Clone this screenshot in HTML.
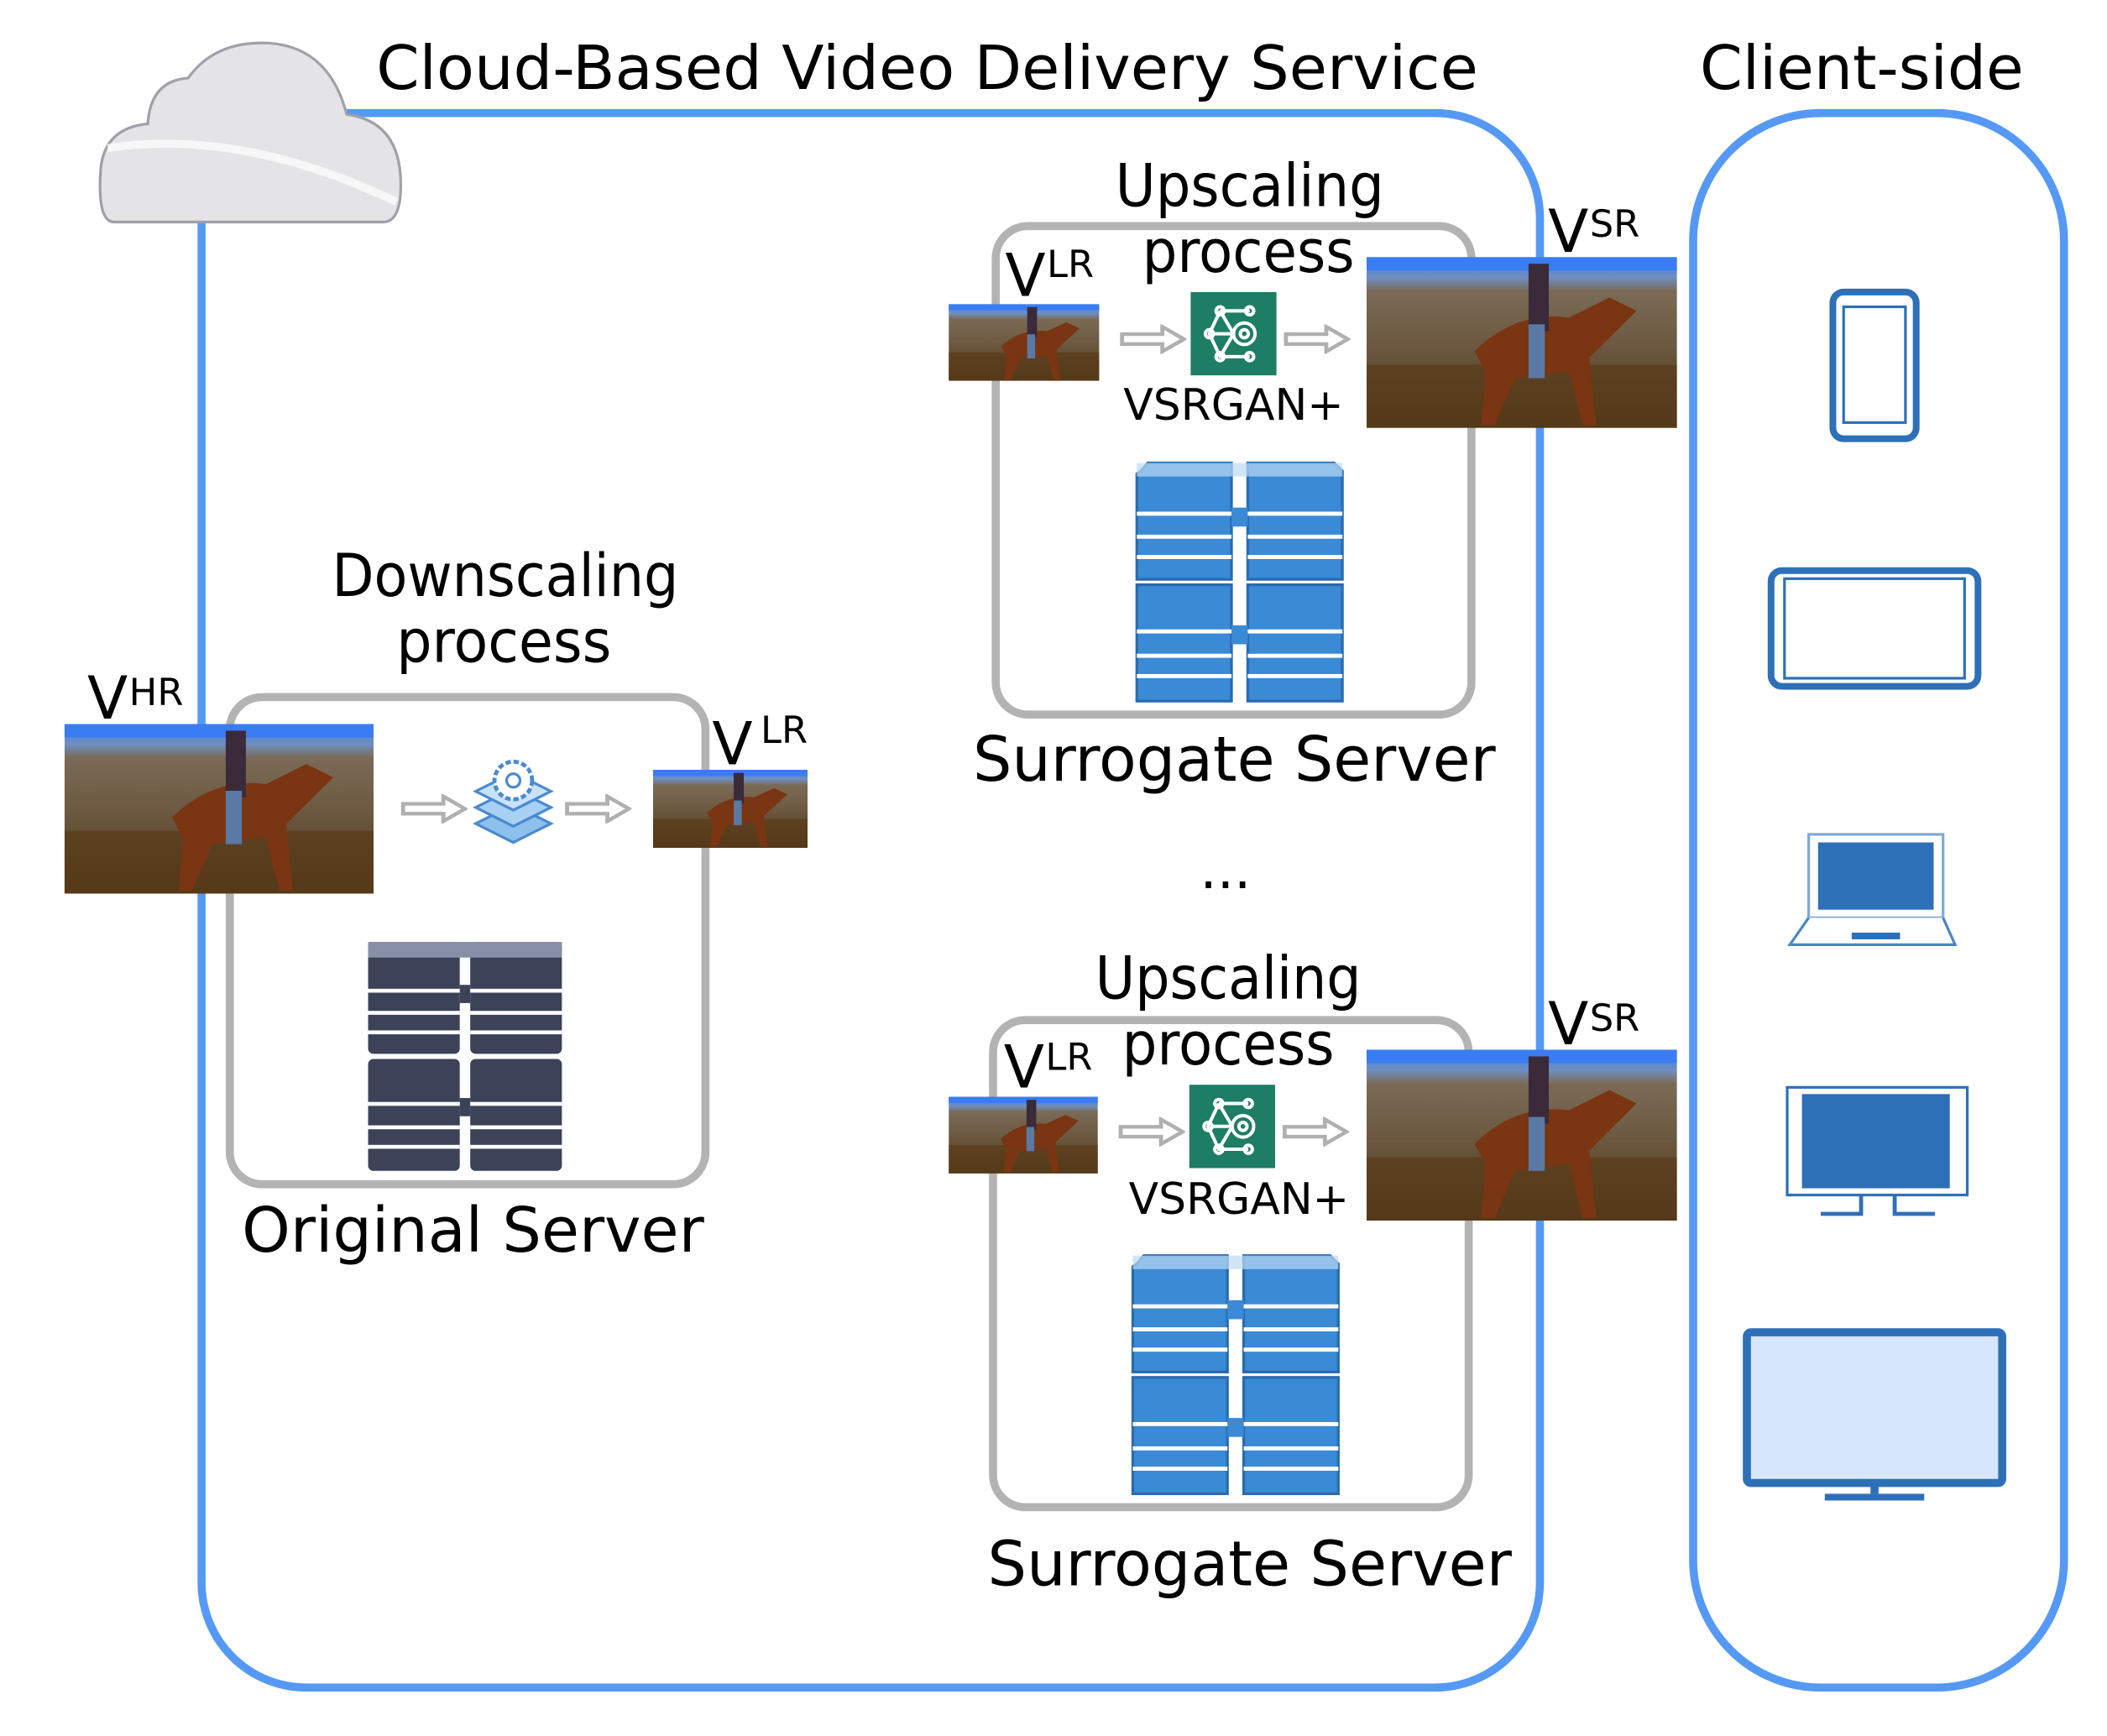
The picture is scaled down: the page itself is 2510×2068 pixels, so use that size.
<!DOCTYPE html>
<html><head><meta charset="utf-8"><style>html,body{margin:0;padding:0;background:#fff}svg{display:block}text{font-family:"DejaVu Sans","Liberation Sans",sans-serif;fill:#000}</style></head>
<body>
<svg width="2510" height="2068" viewBox="0 0 1568 1290" preserveAspectRatio="none" xmlns="http://www.w3.org/2000/svg">
<defs>
<linearGradient id="sky" x1="0" y1="0" x2="0" y2="1">
<stop offset="0" stop-color="#3f7ef0"/><stop offset="0.12" stop-color="#6f8fc0"/><stop offset="0.2" stop-color="#7a6a55"/><stop offset="0.5" stop-color="#6e5a42"/><stop offset="1" stop-color="#4a3418"/></linearGradient>
<symbol id="photo" viewBox="0 0 230 127" preserveAspectRatio="none">
<rect width="230" height="127" fill="url(#sky)"/>
<rect y="0" width="230" height="10" fill="#3a7cf2"/>
<rect y="80" width="230" height="47" fill="#5a3c18" opacity="0.7"/>
<path d="M80 70 Q110 40 150 45 L180 30 L200 40 L185 55 L165 75 L170 125 L160 125 L150 85 L110 90 L95 125 L85 125 L88 85 Z" fill="#7a3512"/>
<rect x="120" y="5" width="15" height="50" fill="#3a2a3a"/>
<rect x="120" y="50" width="12" height="40" fill="#5a7aa5"/>
</symbol>
<symbol id="srvB" viewBox="0 0 156 180" preserveAspectRatio="none">
<g fill="#3a8ad6" stroke="#2a6aae" stroke-width="2">
<path d="M5 8 L10 2 H72 V88 H2 V10Z"/><path d="M84 2 H148 L154 8 V88 H84Z"/>
<rect x="2" y="92" width="70" height="86"/><rect x="84" y="92" width="70" height="86"/></g>
<rect x="72" y="35" width="12" height="14" fill="#3a8ad6"/><rect x="72" y="122" width="12" height="14" fill="#3a8ad6"/>
<g fill="#fff"><rect x="2" y="38" width="70" height="3"/><rect x="84" y="38" width="70" height="3"/><rect x="2" y="55" width="70" height="3"/><rect x="84" y="55" width="70" height="3"/><rect x="2" y="70" width="70" height="3"/><rect x="84" y="70" width="70" height="3"/>
<rect x="2" y="125" width="70" height="3"/><rect x="84" y="125" width="70" height="3"/><rect x="2" y="143" width="70" height="3"/><rect x="84" y="143" width="70" height="3"/><rect x="2" y="158" width="70" height="3"/><rect x="84" y="158" width="70" height="3"/></g>
<rect x="2" y="2" width="152" height="10" fill="#bcdcf5" opacity="0.7"/>
</symbol>
<symbol id="srvD" viewBox="0 0 156 180" preserveAspectRatio="none">
<g fill="#3c4258"><rect x="2" y="2" width="70" height="86" rx="4"/><rect x="80" y="2" width="70" height="86" rx="4"/><rect x="2" y="92" width="70" height="86" rx="4"/><rect x="80" y="92" width="70" height="86" rx="4"/></g>
<rect x="72" y="35" width="8" height="14" fill="#3c4258"/><rect x="72" y="122" width="8" height="14" fill="#3c4258"/>
<g fill="#fff"><rect x="2" y="38" width="70" height="3"/><rect x="80" y="38" width="70" height="3"/><rect x="2" y="55" width="70" height="3"/><rect x="80" y="55" width="70" height="3"/><rect x="2" y="70" width="70" height="3"/><rect x="80" y="70" width="70" height="3"/>
<rect x="2" y="125" width="70" height="3"/><rect x="80" y="125" width="70" height="3"/><rect x="2" y="143" width="70" height="3"/><rect x="80" y="143" width="70" height="3"/><rect x="2" y="158" width="70" height="3"/><rect x="80" y="158" width="70" height="3"/></g>
<rect x="2" y="2" width="148" height="12" fill="#8890a8"/>
</symbol>
<symbol id="arr" viewBox="0 0 50 24" preserveAspectRatio="none">
<path d="M2 8 H32 V2 L48 12 L32 22 V16 H2Z" fill="#fff" stroke="#b0b0b0" stroke-width="3"/>
</symbol>
<symbol id="gan" viewBox="0 0 64 62">
<rect width="64" height="62" fill="#1e7d65"/>
<g stroke="#fff" stroke-width="2.5" fill="none"><circle cx="22" cy="14" r="3"/><circle cx="44" cy="14" r="3"/><circle cx="14" cy="31" r="3"/><circle cx="22" cy="48" r="3"/><circle cx="44" cy="48" r="3"/><circle cx="40" cy="31" r="8"/><circle cx="40" cy="31" r="3"/><path d="M22 14 L44 14 M22 14 L14 31 L22 48 L44 48 M22 14 L32 31 M22 48 L32 31 M17 31 H32"/></g>
</symbol>
</defs>

<rect x="150" y="84" width="996" height="1170" rx="78" fill="none" stroke="#5599f5" stroke-width="6"/>
<rect x="1260" y="84" width="276" height="1170" rx="95" fill="none" stroke="#5599f5" stroke-width="6"/>

<path d="M85 165 Q72 165 75 125 Q78 95 110 92 Q112 60 140 58 Q160 30 200 32 Q245 35 258 85 Q295 90 298 130 Q300 165 285 165 Z" fill="#e4e4e6" stroke="#a0a0a8" stroke-width="2"/>
<path d="M80 110 Q180 95 295 150" fill="none" stroke="#fff" stroke-width="6" opacity="0.7"/>

<text x="280" y="66" font-size="45" textLength="820" lengthAdjust="spacingAndGlyphs">Cloud-Based Video Delivery Service</text>
<text x="1265" y="66" font-size="45" textLength="241" lengthAdjust="spacingAndGlyphs">Client-side</text>

<rect x="171" y="518" width="354" height="362" rx="24" fill="#fff" stroke="#b3b3b3" stroke-width="6"/>
<text x="247" y="443" font-size="44" textLength="258" lengthAdjust="spacingAndGlyphs">Downscaling</text>
<text x="295" y="492" font-size="44" textLength="160" lengthAdjust="spacingAndGlyphs">process</text>
<text x="65" y="534" font-size="44">V</text><text x="96" y="524" font-size="28">HR</text>
<use href="#photo" x="48" y="538" width="230" height="126"/>
<use href="#arr" x="298" y="590" width="50" height="22"/>
<use href="#arr" x="420" y="590" width="50" height="22"/>
<g>
<path d="M354 612 L382 598 L410 612 L382 626Z" fill="#8ec0ec" stroke="#4a8ad0" stroke-width="2"/>
<path d="M354 600 L382 586 L410 600 L382 614Z" fill="#a8d0f2" stroke="#4a8ad0" stroke-width="2"/>
<path d="M354 588 L382 574 L410 588 L382 602Z" fill="#c8e2f8" stroke="#4a8ad0" stroke-width="2"/>
<circle cx="382" cy="580" r="14" fill="#fff" stroke="#4a8ad0" stroke-width="3" stroke-dasharray="4 2"/>
<circle cx="382" cy="580" r="5" fill="none" stroke="#4a8ad0" stroke-width="2"/>
</g>
<text x="530" y="568" font-size="44">V</text><text x="566" y="552" font-size="28">LR</text>
<use href="#photo" x="486" y="572" width="115" height="58"/>
<use href="#srvD" x="272" y="698" width="152" height="174"/>
<text x="180" y="930" font-size="46" textLength="344" lengthAdjust="spacingAndGlyphs">Original Server</text>

<rect x="741" y="168" width="354" height="363" rx="24" fill="#fff" stroke="#b3b3b3" stroke-width="6"/>
<text x="830" y="153" font-size="44" textLength="200" lengthAdjust="spacingAndGlyphs">Upscaling</text>
<text x="850" y="202" font-size="44" textLength="158" lengthAdjust="spacingAndGlyphs">process</text>
<text x="748" y="220" font-size="44">V</text><text x="779" y="206" font-size="28">LR</text>
<use href="#photo" x="706" y="226" width="112" height="57"/>
<use href="#arr" x="833" y="241" width="50" height="22"/>
<use href="#gan" x="886" y="217" width="64" height="62"/>
<use href="#arr" x="955" y="241" width="50" height="22"/>
<text x="836" y="312" font-size="32" textLength="164" lengthAdjust="spacingAndGlyphs">VSRGAN+</text>
<text x="1152" y="187" font-size="44">V</text><text x="1183" y="176" font-size="28">SR</text>
<use href="#photo" x="1017" y="191" width="231" height="127"/>
<use href="#srvB" x="844" y="342" width="157" height="181"/>
<text x="724" y="580" font-size="46" textLength="389" lengthAdjust="spacingAndGlyphs">Surrogate Server</text>

<text x="912" y="660" font-size="40" text-anchor="middle">...</text>

<rect x="739" y="758" width="354" height="362" rx="24" fill="#fff" stroke="#b3b3b3" stroke-width="6"/>
<text x="815" y="742" font-size="44" textLength="198" lengthAdjust="spacingAndGlyphs">Upscaling</text>
<text x="835" y="791" font-size="44" textLength="158" lengthAdjust="spacingAndGlyphs">process</text>
<text x="747" y="808" font-size="44">V</text><text x="778" y="795" font-size="28">LR</text>
<use href="#photo" x="706" y="815" width="111" height="57"/>
<use href="#arr" x="832" y="830" width="50" height="22"/>
<use href="#gan" x="885" y="806" width="64" height="62"/>
<use href="#arr" x="954" y="830" width="50" height="22"/>
<text x="840" y="902" font-size="32" textLength="164" lengthAdjust="spacingAndGlyphs">VSRGAN+</text>
<text x="1152" y="776" font-size="44">V</text><text x="1183" y="766" font-size="28">SR</text>
<use href="#photo" x="1017" y="780" width="231" height="127"/>
<use href="#srvB" x="841" y="931" width="157" height="181"/>
<text x="735" y="1178" font-size="46" textLength="390" lengthAdjust="spacingAndGlyphs">Surrogate Server</text>

<rect x="1364" y="217" width="62" height="109" rx="8" fill="#fff" stroke="#2e70b8" stroke-width="5"/>
<rect x="1372" y="228" width="46" height="86" fill="#fff" stroke="#2e70b8" stroke-width="2"/>
<rect x="1318" y="424" width="154" height="86" rx="8" fill="#fff" stroke="#2e70b8" stroke-width="5"/>
<rect x="1328" y="430" width="134" height="74" fill="#fff" stroke="#2e70b8" stroke-width="2"/>
<rect x="1346" y="620" width="100" height="62" fill="#fff" stroke="#7ea8d8" stroke-width="2"/>
<rect x="1353" y="626" width="86" height="50" fill="#2e70b8"/>
<path d="M1346 682 L1332 702 H1455 L1446 682" fill="#fff" stroke="#4a86c8" stroke-width="2"/>
<rect x="1378" y="693" width="36" height="5" fill="#2e70b8"/>
<rect x="1330" y="808" width="134" height="80" fill="#fff" stroke="#2e70b8" stroke-width="2"/>
<rect x="1341" y="813" width="110" height="70" fill="#2e70b8"/>
<path d="M1385 888 V902 H1355 M1410 888 V902 H1440" fill="none" stroke="#2e70b8" stroke-width="3"/>
<rect x="1300" y="990" width="190" height="112" rx="3" fill="#d6e6fc" stroke="#2e70b8" stroke-width="6"/>
<rect x="1392" y="1102" width="6" height="8" fill="#2e70b8"/>
<rect x="1358" y="1110" width="74" height="5" fill="#2e70b8"/>
</svg>
</body></html>
